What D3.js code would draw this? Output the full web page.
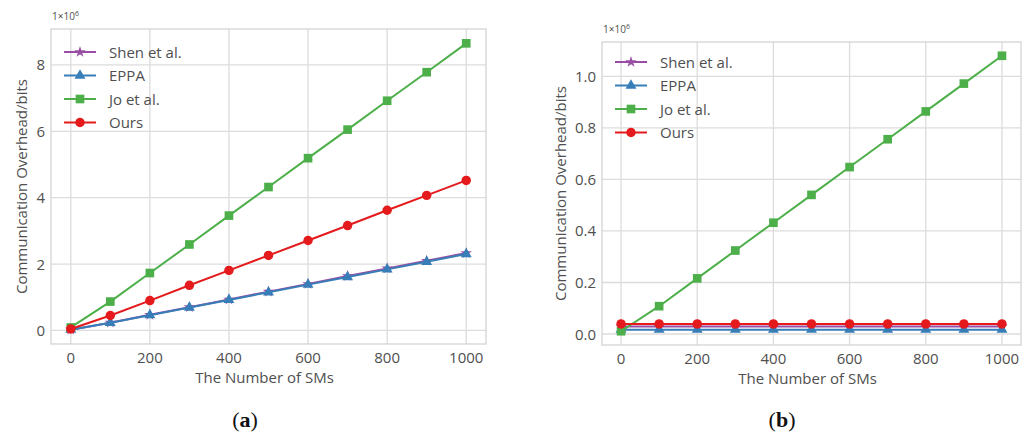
<!DOCTYPE html>
<html>
<head>
<meta charset="utf-8">
<script src="https://cdn.jsdelivr.net/npm/d3@7"></script>
<style>
  body { margin: 0; background: #fff; }
  svg { display: block; }
  text { font-family: "Open Sans", "DejaVu Sans", sans-serif; fill: #4f4f4f; }
</style>
</head>
<body>
<svg id="chart" width="1027" height="433"></svg>
<script>
// number of smart meters on the x axis
var smCounts = [0, 100, 200, 300, 400, 500, 600, 700, 800, 900, 1000]

// panel (a), values in units of 1e6 bits
var shenA = [0.023, 0.235, 0.47, 0.70, 0.93, 1.17, 1.40, 1.64, 1.87, 2.10, 2.33]
var eppaA = [0.023, 0.23, 0.46, 0.69, 0.92, 1.15, 1.38, 1.61, 1.84, 2.07, 2.30]
var joA   = [0.09, 0.87, 1.73, 2.59, 3.46, 4.32, 5.19, 6.05, 6.92, 7.78, 8.65]
var oursA = [0.045, 0.45, 0.90, 1.36, 1.81, 2.26, 2.71, 3.16, 3.62, 4.07, 4.52]

// panel (b), values in units of 1e6 bits
var shenB = [0.029, 0.029, 0.029, 0.029, 0.029, 0.029, 0.029, 0.029, 0.029, 0.029, 0.029]
var eppaB = [0.017, 0.017, 0.017, 0.017, 0.017, 0.017, 0.017, 0.017, 0.017, 0.017, 0.017]
var joB   = [0.0108, 0.108, 0.216, 0.324, 0.432, 0.54, 0.648, 0.756, 0.864, 0.972, 1.08]
var oursB = [0.039, 0.039, 0.039, 0.039, 0.039, 0.039, 0.039, 0.039, 0.039, 0.039, 0.039]

var seriesNames = ["Shen et al.", "EPPA", "Jo et al.", "Ours"]
var seriesColors = ["#984ea3", "#377eb8", "#4daf4a", "#e41a1c"]
var seriesSymbols = [d3.symbolStar, d3.symbolTriangle, d3.symbolSquare, d3.symbolCircle]
var symbolSizes = [40, 52, 75, 70]

var xTicks = [0, 200, 400, 600, 800, 1000]
var yTicksA = [0, 2, 4, 6, 8]
var yTicksB = [0, 0.2, 0.4, 0.6, 0.8, 1.0]

var svg = d3.select("#chart")

function padded(extent) {
    var r = extent[1] - extent[0]
    return [extent[0] - 0.05 * r, extent[1] + 0.05 * r]
}

function drawPanel(opts) {
    var g = svg.append("g")
    var x = d3.scaleLinear().domain(padded(d3.extent(smCounts))).range([opts.left, opts.right])
    var all = d3.merge(opts.data)
    var y = d3.scaleLinear().domain(padded(d3.extent(all))).range([opts.bottom, opts.top])

    // grid
    g.append("g").selectAll("line").data(xTicks).enter().append("line")
        .attr("x1", d => x(d)).attr("x2", d => x(d))
        .attr("y1", opts.top).attr("y2", opts.bottom)
        .attr("stroke", "#dcdcdc").attr("stroke-width", 1.3)
    g.append("g").selectAll("line").data(opts.yTicks).enter().append("line")
        .attr("y1", d => y(d)).attr("y2", d => y(d))
        .attr("x1", opts.left).attr("x2", opts.right)
        .attr("stroke", "#dcdcdc").attr("stroke-width", 1.3)

    g.append("rect")
        .attr("x", opts.left).attr("y", opts.top)
        .attr("width", opts.right - opts.left).attr("height", opts.bottom - opts.top)
        .attr("fill", "none").attr("stroke", "#d4d4d4").attr("stroke-width", 1.3)

    // tick labels
    g.append("g").selectAll("text").data(xTicks).enter().append("text")
        .attr("x", d => x(d)).attr("y", opts.bottom + 19)
        .attr("text-anchor", "middle").style("font-size", "15px")
        .text(d => d)
    g.append("g").selectAll("text").data(opts.yTicks).enter().append("text")
        .attr("x", opts.left - 6).attr("y", d => y(d) + 5.5)
        .attr("text-anchor", "end").style("font-size", "15px")
        .text(opts.yFormat)

    // axis titles
    g.append("text")
        .attr("x", (opts.left + opts.right) / 2 - 4).attr("y", opts.bottom + 39)
        .attr("text-anchor", "middle").style("font-size", "15px")
        .text("The Number of SMs")
    g.append("text")
        .attr("transform", "translate(" + opts.yLabelX + "," + ((opts.top + opts.bottom) / 2) + ") rotate(-90)")
        .attr("text-anchor", "middle").style("font-size", "15px")
        .text("Communication Overhead/bits")

    // offset text
    var off = g.append("text")
        .attr("x", opts.left + 1).attr("y", opts.top - 9)
        .style("font-size", "10px")
    off.append("tspan").text("1×10")
    off.append("tspan").attr("dy", -4).style("font-size", "7px").text("6")

    // series
    var line = d3.line().x((d, i) => x(smCounts[i])).y(d => y(d))
    opts.data.forEach(function(values, k) {
        g.append("path")
            .datum(values)
            .attr("d", line)
            .attr("fill", "none")
            .attr("stroke", seriesColors[k])
            .attr("stroke-width", 2)
        g.append("g").selectAll("path").data(values).enter().append("path")
            .attr("transform", (d, i) => "translate(" + x(smCounts[i]) + "," + y(d) + ")")
            .attr("d", d3.symbol().type(seriesSymbols[k]).size(symbolSizes[k]))
            .attr("fill", seriesColors[k])
    })

    // legend
    var leg = g.append("g")
    seriesNames.forEach(function(name, k) {
        var ly = opts.legendY + k * 23.5
        leg.append("line")
            .attr("x1", opts.legendX).attr("x2", opts.legendX + 32)
            .attr("y1", ly).attr("y2", ly)
            .attr("stroke", seriesColors[k]).attr("stroke-width", 2)
        leg.append("path")
            .attr("transform", "translate(" + (opts.legendX + 16) + "," + ly + ")")
            .attr("d", d3.symbol().type(seriesSymbols[k]).size(symbolSizes[k]))
            .attr("fill", seriesColors[k])
        leg.append("text")
            .attr("x", opts.legendX + 45).attr("y", ly + 5.5)
            .style("font-size", "15px")
            .text(name)
    })

    // caption
    var cap = svg.append("text")
        .attr("x", opts.captionX).attr("y", 427)
        .attr("text-anchor", "middle")
        .style("font-family", "'Liberation Serif', 'DejaVu Serif', serif")
        .style("font-size", "22px").style("fill", "#111")
    cap.append("tspan").text("(")
    cap.append("tspan").style("font-weight", "bold").text(opts.captionLetter)
    cap.append("tspan").text(")")
}

drawPanel({
    left: 51, right: 486, top: 29, bottom: 344,
    data: [shenA, eppaA, joA, oursA],
    yTicks: yTicksA, yFormat: d3.format("d"),
    yLabelX: 27, legendX: 64, legendY: 52,
    captionX: 245, captionLetter: "a"
})

drawPanel({
    left: 602, right: 1021, top: 42, bottom: 345,
    data: [shenB, eppaB, joB, oursB],
    yTicks: yTicksB, yFormat: d3.format(".1f"),
    yLabelX: 566, legendX: 615, legendY: 62,
    captionX: 782, captionLetter: "b"
})
</script>
</body>
</html>
